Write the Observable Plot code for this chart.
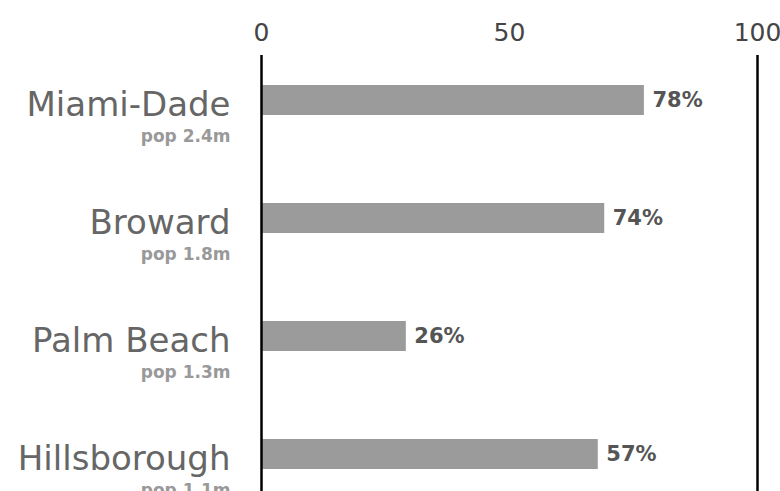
<!DOCTYPE html>
<html>
<head>
<meta charset="utf-8">
<script src="https://cdn.jsdelivr.net/npm/d3@7"></script>
<script src="https://cdn.jsdelivr.net/npm/@observablehq/plot@0.6"></script>
<style>
  html, body { margin: 0; padding: 0; background: #fff; }
  svg { display: block; }
</style>
</head>
<body>
<div id="chart"></div>
<script>
const counties = ["Miami-Dade", "Broward", "Palm Beach", "Hillsborough"];
const populations = ["pop 2.4m", "pop 1.8m", "pop 1.3m", "pop 1.1m"];
const barValues = [77.2, 69.2, 29.2, 67.9];
const valueLabels = ["78%", "74%", "26%", "57%"];
const xTicks = [0, 50, 100];
const frameLines = [0, 100];

const data = counties.map((c, i) => ({
  county: c,
  pop: populations[i],
  value: barValues[i],
  label: valueLabels[i]
}));

const chart = Plot.plot({
  width: 780,
  height: 491,
  marginLeft: 261,
  marginRight: 23,
  marginTop: 55,
  marginBottom: 0,
  style: { fontFamily: "DejaVu Sans", background: "#fff" },
  x: { domain: [0, 100] },
  y: { domain: counties, range: [85, 469], paddingInner: 0.746, paddingOuter: 0, axis: null },
  marks: [
    Plot.axisX(xTicks, {
      anchor: "top",
      tickSize: 0,
      tickPadding: 15,
      fontSize: 25,
      fill: "#444",
      label: null
    }),
    Plot.barX(data, { x: "value", y: "county", fill: "#9b9b9b" }),
    Plot.ruleX(frameLines, { stroke: "#000", strokeWidth: 2.5 }),
    Plot.text(data, {
      x: "value", y: "county", text: "label",
      textAnchor: "start", dx: 8, dy: 0,
      fontSize: 21, fontWeight: "bold", fill: "#555"
    }),
    Plot.text(data, {
      y: "county", text: "county", frameAnchor: "left",
      textAnchor: "end", lineAnchor: "bottom", dx: -31, dy: 15,
      fontSize: 34, fill: "#666"
    }),
    Plot.text(data, {
      y: "county", text: "pop", frameAnchor: "left",
      textAnchor: "end", lineAnchor: "bottom", dx: -31, dy: 41,
      fontSize: 17, fontWeight: "bold", fill: "#999"
    })
  ]
});

document.getElementById("chart").appendChild(chart);
</script>
</body>
</html>
